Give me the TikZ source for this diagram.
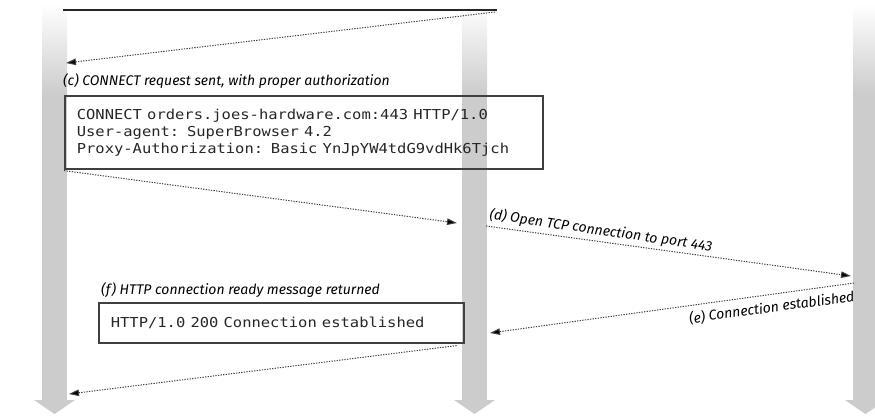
\documentclass[tikz,border=0pt]{standalone}
\usepackage{fontspec}
\usepackage{graphicx}
\usetikzlibrary{arrows.meta}
\newfontfamily\labfont{Fira Sans}
\newfontfamily\codefont{DejaVu Sans Mono}
\newcommand{\cl}[1]{\scalebox{1.13}[1]{#1}}
\definecolor{barcol}{HTML}{CCCCCC}
\tikzset{
  bar/.style={fill=barcol, draw=none},
  msg/.style={dash pattern=on 1.3pt off 1.3pt, line width=1pt, draw=black!75, -{Triangle[length=10pt,width=6.5pt,fill=black]}},
  lab/.style={font=\labfont\itshape\fontsize{14}{16}\selectfont, inner sep=0pt, text=black},
  codebox/.style={draw=black!75, line width=1.6pt, anchor=north west, align=left,
     font=\codefont\fontsize{13.7}{17}\selectfont, inner xsep=12pt, text=black!85},
}
\begin{document}
\begin{tikzpicture}[x=1pt,y=-1pt]
\useasboundingbox (0,0) rectangle (875,416);
% timelines
\foreach \n/\x in {lbar/42, mbar/462, rbar/853}{
  \shade[top color=white, bottom color=barcol] (\x,4) rectangle ++(25,90);
  \fill[bar] (\x,93.5) rectangle ++(25,307);
  \fill[bar] (\x-8,400) -- ++(41,0) -- ++(-20.5,14) -- cycle;
}
% top rule
\draw[line width=2pt, black!85] (63,10) -- (497,10);
% coordinates
\coordinate (a1s) at (495,12);  \coordinate (a1e) at (66,63);
\coordinate (a3s) at (486,226); \coordinate (a3e) at (851,276);
\coordinate (a4s) at (854,283); \coordinate (a4e) at (490,333);
\coordinate (a2e) at (457,223);
\coordinate (a5e) at (69,394);
% boxes
\node[codebox, minimum width=478pt, minimum height=73pt, text width=454pt] (req) at (64,95)
  {\cl{CONNECT orders.joes-hardware.com:443 HTTP/1.0}\\
   \cl{User-agent: SuperBrowser 4.2}\\
   \cl{Proxy-Authorization: Basic YnJpYW4tdG9vdHk6Tjch}};
\node[codebox, minimum width=365pt, minimum height=40pt, text width=341pt] (resp) at (98,302)
  {\cl{HTTP/1.0 200 Connection established}};
% labels
\node[lab, anchor=base west] (lc) at (63,85) {(c) CONNECT request sent, with proper authorization};
\node[lab, anchor=base west, rotate=-8.2] (ld) at (489,219) {(d) Open TCP connection to port 443};
\node[lab, anchor=base east, rotate=7.8] (le) at (855,301) {(e) Connection established};
\node[lab, anchor=base west] (lf) at (101,294) {(f) HTTP connection ready message returned};
% messages
\draw[msg] (a1s) -- (a1e);
\draw[msg] ([yshift=-1pt]req.south west) -- (a2e);
\draw[msg] (a3s) -- (a3e);
\draw[msg] (a4s) -- (a4e);
\draw[msg] ([xshift=-8pt,yshift=-2pt]resp.south east) -- (a5e);
\end{tikzpicture}
\end{document}
